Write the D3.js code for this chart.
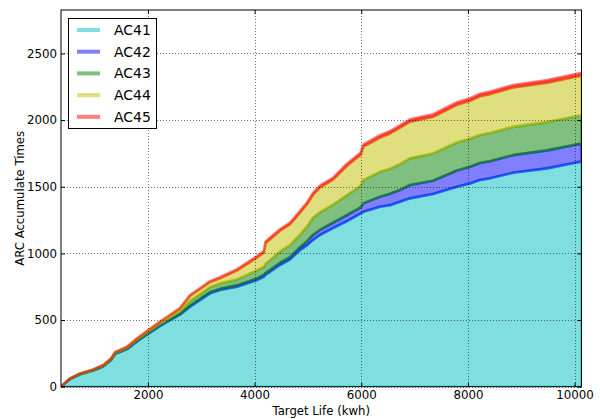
<!DOCTYPE html>
<html>
<head>
<meta charset="utf-8">
<script src="https://cdn.jsdelivr.net/npm/d3@7"></script>
<style>
  html, body { margin: 0; padding: 0; background: #ffffff; }
  svg { display: block; }
  text { font-family: "DejaVu Sans", sans-serif; fill: #000; }
</style>
</head>
<body>
<svg id="chart" width="600" height="419"></svg>
<script>
// ---- data ----
const targetLife = [370,540,730,970,1160,1310,1385,1610,1795,2000,2225,2415,2600,2790,2975,3165,3350,3670,4045,4175,4205,4290,4475,4665,4850,4985,5095,5225,5470,5735,5990,6040,6350,6540,6725,6915,7345,7795,8040,8225,8415,8845,9485,10130];
const AC41 = [0,58,93,121,152,200,246,282,340,396,455,499,540,600,650,700,725,750,800,825,840,862,913,955,1025,1062,1100,1138,1190,1243,1300,1312,1350,1362,1387,1413,1445,1500,1525,1550,1563,1605,1638,1690];
const AC42 = [0,1,1,1,1,1,1,2,2,3,4,5,6,7,8,8,9,10,12,13,13,13,15,17,20,30,38,38,40,45,45,63,75,85,88,100,100,122,125,128,128,132,135,135];
const AC43 = [0,2,3,4,5,6,7,8,10,11,13,16,19,35,35,38,40,45,60,62,67,75,85,90,95,110,130,132,135,150,162,175,187,188,195,200,205,210,210,210,212,212,212,212];
const AC44 = [0,1,2,3,3,4,5,6,8,11,12,16,20,40,40,40,40,68,97,107,157,157,157,157,165,169,172,187,188,221,234,251,257,265,273,275,275,283,285,291,292,295,295,298];
const AC45 = [0,1,1,1,2,2,2,3,3,3,4,4,5,5,6,6,7,9,11,11,12,12,12,13,13,13,14,14,15,16,16,16,18,18,18,18,19,19,19,19,20,20,20,20];
const seriesNames = ["AC41","AC42","AC43","AC44","AC45"];
const seriesColors = ["#00bfbf","#0000ff","#008000","#bfbf00","#ff0000"];
const xTicks = [2000,4000,6000,8000,10000];
const yTicks = [0,500,1000,1500,2000,2500];
const xDomain = [370, 10130];
const yDomain = [0, 2826];
const xLabel = "Target Life (kwh)";
const yLabel = "ARC Accumulate Times";

// ---- layout ----
const L = 61, T = 10, R = 581.5, B = 386.7;
const svg = d3.select("#chart");

const x = d3.scaleLinear().domain(xDomain).range([L, R]);
const y = d3.scaleLinear().domain(yDomain).range([B, T]);

const seriesData = [AC41, AC42, AC43, AC44, AC45];
const rows = targetLife.map((xv, i) => {
  const r = { x: xv };
  seriesNames.forEach((k, j) => r[k] = seriesData[j][i]);
  return r;
});
const stacked = d3.stack().keys(seriesNames)(rows);

svg.append("defs").append("clipPath").attr("id", "clip")
  .append("rect").attr("x", L).attr("y", T).attr("width", R - L).attr("height", B - T);

const area = d3.area()
  .x(d => x(d.data.x))
  .y0(d => y(d[0]))
  .y1(d => y(d[1]));

const plot = svg.append("g").attr("clip-path", "url(#clip)");
plot.selectAll("path.layer")
  .data(stacked)
  .join("path")
  .attr("class", "layer")
  .attr("d", area)
  .attr("fill", (d, i) => seriesColors[i])
  .attr("fill-opacity", 0.5)
  .attr("stroke", (d, i) => seriesColors[i])
  .attr("stroke-opacity", 0.5)
  .attr("stroke-width", 2.6)
  .attr("stroke-linejoin", "round");

// ---- grid (drawn above areas) ----
const grid = svg.append("g");
xTicks.forEach(t => {
  grid.append("line")
    .attr("x1", Math.round(x(t)) + 0.5).attr("x2", Math.round(x(t)) + 0.5)
    .attr("y1", T).attr("y2", B)
    .attr("stroke", "#000").attr("stroke-opacity", 0.55)
    .attr("stroke-width", 1).attr("stroke-dasharray", "1,2");
});
yTicks.forEach(t => {
  grid.append("line")
    .attr("y1", Math.round(y(t)) + 0.5).attr("y2", Math.round(y(t)) + 0.5)
    .attr("x1", L).attr("x2", R)
    .attr("stroke", "#000").attr("stroke-opacity", 0.55)
    .attr("stroke-width", 1).attr("stroke-dasharray", "1,2");
});

// ---- axes ----
const fmt = d3.format("d");
const xAxisB = d3.axisBottom(x).tickValues(xTicks).tickFormat(fmt).tickSizeInner(-4).tickSizeOuter(0).tickPadding(4);
const xAxisT = d3.axisTop(x).tickValues(xTicks).tickFormat("").tickSizeInner(-4).tickSizeOuter(0);
const yAxisL = d3.axisLeft(y).tickValues(yTicks).tickFormat(fmt).tickSizeInner(-4).tickSizeOuter(0).tickPadding(4);
const yAxisR = d3.axisRight(y).tickValues(yTicks).tickFormat("").tickSizeInner(-4).tickSizeOuter(0);

function styleAxis(g) {
  g.select(".domain").remove();
  g.selectAll(".tick line").attr("stroke", "#000").attr("stroke-width", 1);
  g.selectAll(".tick text").attr("font-size", "11.8px").attr("font-family", "DejaVu Sans").attr("fill", "#000");
}
svg.append("g").attr("transform", `translate(0,${B})`).call(xAxisB).call(styleAxis);
svg.append("g").attr("transform", `translate(0,${T})`).call(xAxisT).call(styleAxis);
svg.append("g").attr("transform", `translate(${L},0)`).call(yAxisL).call(styleAxis);
svg.append("g").attr("transform", `translate(${R},0)`).call(yAxisR).call(styleAxis);

// frame
svg.append("rect")
  .attr("x", L).attr("y", T).attr("width", R - L).attr("height", B - T)
  .attr("fill", "none").attr("stroke", "#000").attr("stroke-width", 1);

// axis labels
svg.append("text")
  .attr("x", (L + R) / 2).attr("y", 414.5)
  .attr("text-anchor", "middle").attr("font-size", "11.7px")
  .text(xLabel);
svg.append("text")
  .attr("transform", `translate(24,${(T + B) / 2}) rotate(-90)`)
  .attr("text-anchor", "middle").attr("font-size", "11.7px")
  .text(yLabel);

// ---- legend ----
const leg = svg.append("g");
leg.append("rect")
  .attr("x", 68.5).attr("y", 18.5).attr("width", 88).attr("height", 110)
  .attr("fill", "#fff").attr("stroke", "#000").attr("stroke-width", 1);
seriesNames.forEach((name, i) => {
  const cy = 30 + i * 21.7;
  leg.append("line")
    .attr("x1", 77).attr("x2", 100).attr("y1", cy).attr("y2", cy)
    .attr("stroke", seriesColors[i]).attr("stroke-opacity", 0.5).attr("stroke-width", 4);
  leg.append("text")
    .attr("x", 114).attr("y", cy).attr("dy", "0.36em")
    .attr("font-size", "14px")
    .text(name);
});
</script>
</body>
</html>
